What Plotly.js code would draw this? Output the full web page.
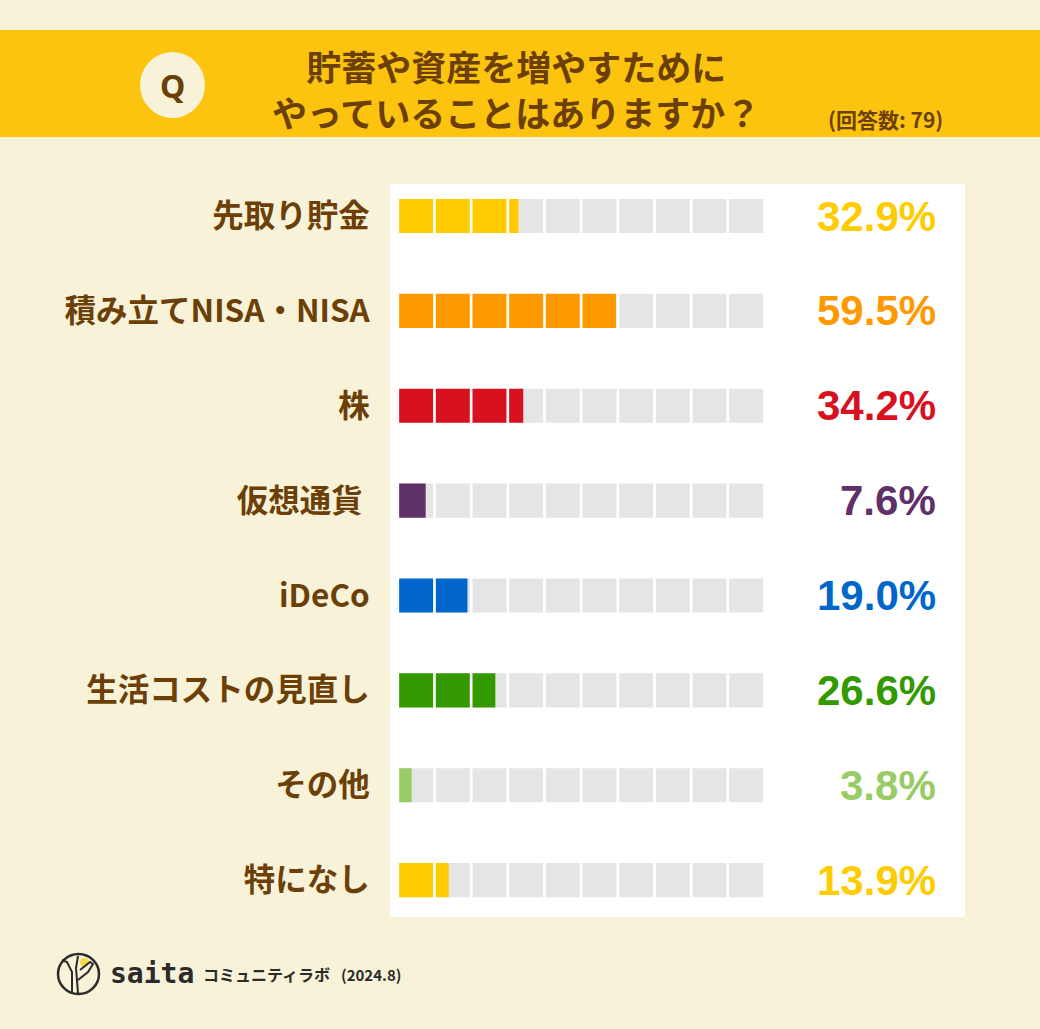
<!DOCTYPE html>
<html>
<head>
<meta charset="utf-8">
<script src="https://cdn.plot.ly/plotly-3.0.1.min.js"></script>
<style>
  body { margin: 0; background: #f7f2d8; }
  #plot { width: 1040px; height: 1029px; }
</style>
</head>
<body>
<div id="plot"></div>
<script>
// survey answers (回答数: 79)
const categories = ['先取り貯金', '積み立てNISA・NISA', '株', '仮想通貨', 'iDeCo', '生活コストの見直し', 'その他', '特になし'];
const tickLabels = ['先取り貯金', '積み立てNISA・NISA', '株', '仮想通貨 ', 'iDeCo', '生活コストの見直し', 'その他', '特になし'];
const values = [32.9, 59.5, 34.2, 7.6, 19.0, 26.6, 3.8, 13.9];
const barColors = ['#ffcc00', '#ff9900', '#d7111f', '#603069', '#0066cc', '#339900', '#99cc66', '#ffcc00'];
const cells = [0, 10, 20, 30, 40, 50, 60, 70, 80, 90, 100];

const W = 1040, H = 1029;
const brown = '#6b3f07';
const jp = '"Noto Sans CJK JP", "Noto Sans", sans-serif';

// pixel -> paper helpers
const px = x => x / W;
const py = y => 1 - y / H;

// grey track behind each bar (always the full 100%)
const track = categories.map(() => 100);

const traceTrack = {
    type: 'bar',
    orientation: 'h',
    y: categories,
    x: track,
    width: 0.36,
    marker: { color: '#e5e5e5' },
    hoverinfo: 'skip'
};

const traceValues = {
    type: 'bar',
    orientation: 'h',
    y: categories,
    x: values,
    width: 0.36,
    marker: { color: barColors },
    hoverinfo: 'x'
};

const shapes = [
    // yellow question banner
    { type: 'rect', xref: 'paper', yref: 'paper', x0: 0, x1: 1, y0: py(137), y1: py(30),
      fillcolor: '#fcc40e', line: { width: 0 }, layer: 'below' },
    // Q badge
    { type: 'circle', xref: 'paper', yref: 'paper', x0: px(140), x1: px(205), y0: py(118), y1: py(52),
      fillcolor: '#f7f2d8', line: { width: 0 }, layer: 'below' },
    // white card behind the bars
    { type: 'rect', xref: 'paper', yref: 'paper', x0: px(390), x1: px(965), y0: py(917), y1: py(184),
      fillcolor: '#ffffff', line: { width: 0 }, layer: 'below' },
    // saita logo
    { type: 'circle', xref: 'paper', yref: 'paper', x0: px(58), x1: px(99), y0: py(994), y1: py(954),
      line: { color: '#2b2b2b', width: 2.5 } },
    { type: 'circle', xref: 'paper', yref: 'paper', x0: px(80), x1: px(89), y0: py(967), y1: py(958),
      fillcolor: '#f5d94a', line: { width: 0 } }
];

// logo strokes drawn as paper paths
function pathPx(points) {
    return 'M' + points.map(p => px(p[0]) + ',' + py(p[1])).join(' L');
}
shapes.push({ type: 'path', xref: 'paper', yref: 'paper',
    path: pathPx([[72, 992], [72, 972], [67, 962], [62, 960]]), line: { color: '#2b2b2b', width: 2 } });
shapes.push({ type: 'path', xref: 'paper', yref: 'paper',
    path: pathPx([[78, 993], [76, 968], [78, 956]]), line: { color: '#2b2b2b', width: 2 } });
shapes.push({ type: 'path', xref: 'paper', yref: 'paper',
    path: pathPx([[78, 980], [88, 972], [93, 964], [90, 962], [80, 970]]), line: { color: '#2b2b2b', width: 2 } });

// white gaps that split every bar into 10% cells
cells.forEach(c => {
    shapes.push({ type: 'line', xref: 'x', yref: 'paper', x0: c, x1: c, y0: py(914), y1: py(187),
        line: { color: '#ffffff', width: 2.7 }, layer: 'above' });
});

function note(text, x, y, size, opts) {
    return Object.assign({
        text: text, x: px(x), y: py(y), xref: 'paper', yref: 'paper',
        xanchor: 'center', yanchor: 'middle', showarrow: false,
        font: { family: jp, size: size, color: brown, weight: 'bold' }
    }, opts || {});
}

const annotations = [
    note('Q', 172.5, 85, 32, { font: { family: '"Noto Sans", sans-serif', size: 32, color: brown, weight: 'bold' } }),
    note('貯蓄や資産を増やすために<br>やっていることはありますか？', 516, 88, 35, { align: 'center' }),
    note('(回答数: 79)', 945, 119, 21, { xanchor: 'right' }),
    note('saita', 108, 973, 28, { xanchor: 'left',
        font: { family: '"DejaVu Sans Mono", monospace', size: 28, color: '#2b2b2b', weight: 'bold' } }),
    note('コミュニティラボ', 201, 974, 16, { xanchor: 'left',
        font: { family: jp, size: 16, color: '#2b2b2b', weight: 'bold' } }),
    note('(2024.8)', 339, 974, 15, { xanchor: 'left',
        font: { family: jp, size: 15, color: '#2b2b2b', weight: 'bold' } })
];

// percentage labels on the right of the card
categories.forEach((c, i) => {
    annotations.push({
        text: values[i].toFixed(1) + '%', x: px(938), y: c, xref: 'paper', yref: 'y',
        xanchor: 'right', yanchor: 'middle', showarrow: false,
        font: { family: '"Liberation Sans", Arial, sans-serif', size: 42, color: barColors[i], weight: 'bold' }
    });
});

const layout = {
    width: W,
    height: H,
    margin: { l: 0, r: 0, t: 0, b: 0 },
    paper_bgcolor: '#f7f2d8',
    plot_bgcolor: 'rgba(0,0,0,0)',
    barmode: 'overlay',
    showlegend: false,
    xaxis: {
        domain: [px(397.8), px(764.5)],
        range: [0, 100],
        showgrid: false, zeroline: false, showticklabels: false, fixedrange: true
    },
    yaxis: {
        domain: [py(927.6), py(168.6)],
        type: 'category',
        range: [7.5, -0.5],
        tickvals: categories,
        ticktext: tickLabels,
        ticks: '',
        ticklabelstandoff: 27,
        showgrid: false, zeroline: false, showline: false,
        tickfont: { family: jp, size: 31.5, color: brown, weight: 'bold' }
    },
    shapes: shapes,
    annotations: annotations
};

Plotly.newPlot('plot', [traceTrack, traceValues], layout, { displayModeBar: false, staticPlot: true });
</script>
</body>
</html>
